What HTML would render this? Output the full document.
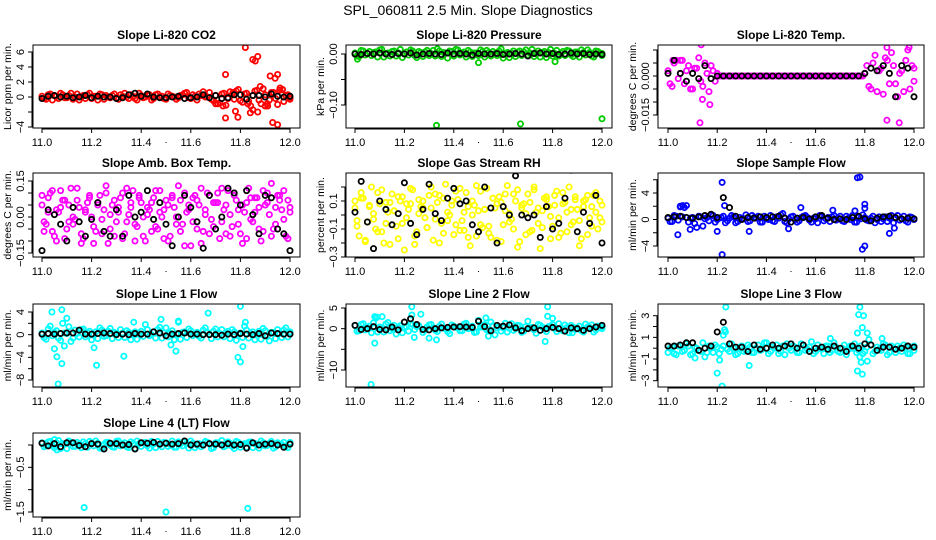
<!DOCTYPE html>
<html><head><meta charset="utf-8"><style>
body{margin:0;background:#fff}
svg{display:block}
text{font-family:"Liberation Sans",sans-serif;fill:#000}
</style></head><body>
<svg id="fig" width="936" height="540" viewBox="0 0 936 540">
<text x="468" y="15" text-anchor="middle" font-size="14">SPL_060811  2.5 Min. Slope Diagnostics</text>
</svg>
<script>
// ---- data ----
const xTicks=[11.0,11.2,11.4,11.6,11.8,12.0];
const co2Col=[0.1,-0.3,0.4,0.2,-0.2,0.3,-0.1,0.5,0.0,-0.4,0.2,0.3,-0.2,0.1,0.4,-0.3,0.0,0.2,-0.1,0.3,0.5,-0.2,0.1,-0.4,0.2,0.0,0.3,-0.2,0.4,0.1,-0.3,0.2,0.0,-0.1,0.3,0.6,-0.2,0.1,0.4,0.7,0.0,-0.3,0.2,-0.8,0.5,-0.2,0.3,0.8,-0.5,0.4,-0.6,0.2,0.9,-0.9,0.3,-0.4,0.6,-1.0,0.5,0.2,-0.3];
const co2Col2=[-0.2,0.3,-0.4,0.1,0.5,-0.1,0.2,-0.3,0.4,0.0,-0.2,0.5,0.1,-0.4,0.3,0.2,-0.1,0.4,-0.3,0.1,0.0,0.3,-0.2,0.5,-0.1,0.2,-0.4,0.3,0.0,-0.2,0.4,0.1,-0.3,0.2,0.5,-0.1,0.3,-0.4,0.2,0.0,0.6,-0.5,-0.9,0.4,-1.1,0.7,-0.3,1.0,-0.7,0.5,-1.2,0.8,-0.4,1.1,-0.9,0.6,-0.2,0.9,-0.6,0.3,-0.1];
const co2Blk=[-0.2,0.1,0.2,0.0,0.1,-0.1,0.0,0.2,-0.1,0.1,0.0,0.0,-0.2,-0.1,0.3,0.5,0.1,0.4,0.0,-0.1,-0.1,0.0,0.1,-0.2,-0.1,0.0,0.3,-0.1,0.2,-0.2,-0.1,0.3,0.3,-0.3,0.2,0.2,0.0,0.4,0.1,0.0,0.1];
const co2OutX=[11.74,11.74,11.78,11.79,11.82,11.84,11.85,11.86,11.87,11.87,11.88,11.9,11.91,11.92,11.93,11.94,11.95,11.95,11.96,11.97,11.85,11.83,11.73,11.7,11.77];
const co2OutY=[3,-2.8,-1.9,-2.7,6.6,-2.1,5,4.8,5.4,-2,1.4,-1.2,-1.2,2.8,-3.4,2.5,-3.7,3,1.2,1,-1.7,-0.9,-1.2,-0.9,0.6];
const presCol=[0.002,-0.005,0.006,0.001,-0.003,0.004,0.008,-0.006,0.002,0.005,-0.004,0.009,0.001,-0.002,0.006,-0.007,0.003,0.004,-0.003,0.007,0.010,-0.005,0.002,0.006,-0.004,0.008,0.001,-0.006,0.004,0.002,-0.003,0.005,0.007,-0.004,0.001,0.006,-0.008,0.003,0.002,-0.005,0.006,0.004,-0.002,0.009,0.001,-0.006,0.005,0.003,-0.004,0.007,0.002,-0.003,0.006,-0.005,0.004,0.008,-0.002,0.003,-0.006,0.005,0.001];
const presCol2=[-0.004,0.007,-0.002,0.005,0.003,-0.006,0.009,0.001,-0.004,0.006,0.002,-0.007,0.004,0.008,-0.003,0.005,-0.005,0.007,0.001,-0.004,0.006,0.003,-0.008,0.005,0.009,-0.002,0.004,0.007,-0.005,0.002,0.008,-0.006,0.003,0.005,-0.003,0.010,0.001,-0.007,0.006,0.004,-0.003,0.008,0.002,-0.005,0.006,0.003,-0.007,0.009,0.001,-0.004,0.005,0.007,-0.002,0.004,-0.006,0.003,0.008,-0.004,0.006,0.002,-0.003];
const presBlk=[0,-0.001,0.001,0,0.002,0,-0.001,0.001,0,0.002,-0.002,0,0.001,0,-0.001,0.002,0,0.001,0,-0.002,0.001,0,0,0.001,-0.001,0,0.001,0,-0.004,0.001,0.002,0,0.001,-0.001,0,0.002,0,0.001,-0.001,0,-0.001];
const presOutX=[11.33,11.5,11.67,12.0,11.81,11.01];
const presOutY=[-0.14,-0.017,-0.137,-0.127,-0.015,-0.01];
const tempCol=[0.002,-0.004,0.006,0.001,-0.003,0.004,-0.005,0.003,-0.002,0.005,-0.006,0.002,0.001,0,0,0,0,0,0,0,0,0,0,0,0,0,0,0,0,0,0,0,0,0,0,0,0,0,0,0,0,0,0,0,0,0,0,0,0.001,-0.004,0.005,-0.006,0.003,0.007,-0.003,0.004,-0.008,0.002,0.006,-0.005,0.003];
const tempCol2=[-0.003,0.005,-0.001,0.006,0.002,-0.005,0.003,0.007,-0.004,0.001,0.004,-0.002,0,0,0,0,0,0,0,0,0,0,0,0,0,0,0,0,0,0,0,0,0,0,0,0,0,0,0,0,0,0,0,0,0,0,0,0,0.004,-0.005,0.008,0.002,-0.007,0.006,0.009,-0.003,0.001,-0.006,0.010,0.004,-0.002];
const tempBlk=[0.001,0.006,0.001,-0.002,0.001,-0.001,0.004,-0.001,0,0,0,0,0,0,0,0,0,0,0,0,0,0,0,0,0,0,0,0,0,0,0,0,0.001,0.003,0.002,0.004,0.001,-0.008,0.004,0.003,-0.008];
const tempOutX=[11.13,11.14,11.135,11.17,11.89,11.89,11.94,11.99,11.99,11.98,11.02,11.05];
const tempOutY=[-0.018,-0.009,0.012,-0.011,-0.017,0.011,-0.018,-0.024,0.013,0.011,0.006,0.006];
const ambCol=[0.05,-0.03,0.10,-0.08,0.02,0.07,-0.05,0.12,-0.01,0.04,-0.09,0.06,0.00,-0.06,0.09,0.03,-0.11,0.05,-0.02,0.08,-0.07,0.01,0.11,-0.04,0.06,-0.10,0.03,0.08,-0.05,0.00,0.07,-0.08,0.04,0.13,-0.03,0.02,-0.12,0.09,0.05,-0.06,0.10,-0.01,0.06,-0.09,0.03,0.11,-0.04,0.07,-0.07,0.02,0.12,-0.02,0.08,-0.10,0.05,0.01,-0.05,0.09,0.03,-0.08,0.04];
const ambCol2=[-0.02,0.08,-0.06,0.03,0.11,-0.09,0.05,-0.03,0.07,-0.11,0.02,0.09,-0.04,0.06,-0.07,0.13,0.01,-0.08,0.04,0.10,-0.02,0.06,-0.10,0.08,0.00,0.04,-0.06,0.11,0.02,-0.09,0.05,0.09,-0.03,0.07,-0.12,0.03,0.08,-0.05,0.12,0.01,-0.07,0.06,0.10,-0.02,0.05,-0.08,0.09,0.03,-0.11,0.06,-0.01,0.08,0.04,-0.06,0.10,0.14,-0.03,0.07,0.11,-0.09,0.02];
const ambCol3=[0.09,-0.06,0.02,0.11,-0.10,0.04,0.07,-0.02,0.00,0.12,-0.07,0.03,0.08,-0.11,0.05,-0.01,0.10,-0.05,0.07,0.02,-0.09,0.12,0.04,-0.03,0.09,-0.08,0.01,0.06,-0.04,0.11,0.03,-0.10,0.08,0.00,-0.06,0.10,0.05,-0.02,0.07,-0.11,0.03,0.09,-0.04,0.06,0.12,-0.07,0.01,0.10,-0.03,0.05,-0.09,0.08,0.02,-0.05,0.11,0.06,-0.08,0.04,0.09,-0.01,0.07];
const ambBlk=[-0.14,0.03,0.01,-0.03,-0.10,0.04,-0.02,-0.08,-0.01,0.06,-0.06,-0.08,0.03,-0.08,0.09,0.00,0.02,0.11,-0.01,0.06,-0.03,-0.12,0.00,0.09,0.04,-0.02,-0.13,0.09,-0.05,0.00,0.12,0.10,0.05,0.11,0.01,-0.07,0.09,0.08,-0.05,-0.07,-0.14];
const rhCol=[0.05,-0.15,0.12,-0.05,0.20,-0.10,0.08,-0.20,0.02,0.15,-0.08,0.10,-0.25,0.04,0.18,-0.12,0.06,-0.02,0.14,-0.18,0.09,-0.06,0.22,0.00,-0.14,0.11,-0.04,0.16,-0.22,0.07,0.03,-0.09,0.19,-0.16,0.05,0.13,-0.07,0.21,-0.03,0.10,-0.19,0.08,0.15,-0.11,0.02,-0.24,0.12,0.06,-0.08,0.17,-0.13,0.09,0.20,-0.05,0.04,-0.17,0.11,-0.02,0.14,-0.10,0.07];
const rhCol2=[-0.08,0.12,-0.18,0.06,-0.03,0.16,-0.12,0.09,-0.21,0.03,0.13,-0.06,0.08,0.19,-0.15,0.01,0.10,-0.09,0.05,0.15,-0.20,0.12,-0.04,0.07,0.17,-0.11,0.02,-0.16,0.10,0.21,-0.07,0.04,-0.13,0.12,0.08,-0.19,0.15,0.01,-0.10,0.18,0.05,-0.14,0.09,0.20,-0.06,0.03,0.13,-0.17,0.07,-0.02,0.16,-0.12,0.04,0.11,-0.22,0.06,0.14,-0.08,0.02,0.10,-0.05];
const rhCol3=[0.10,-0.04,0.16,-0.19,0.07,0.01,-0.12,0.18,-0.06,0.09,0.03,-0.17,0.13,-0.02,0.08,-0.21,0.11,0.05,-0.09,0.20,-0.03,0.14,-0.13,0.02,0.10,-0.07,0.19,-0.11,0.06,0.00,-0.15,0.17,0.04,-0.08,0.12,-0.18,0.09,0.03,-0.05,0.15,-0.23,0.07,0.01,-0.12,0.18,0.05,-0.09,0.11,-0.01,0.14,-0.16,0.08,0.02,-0.07,0.13,-0.04,0.10,-0.14,0.06,0.16,-0.02];
const rhBlk=[0.02,0.24,-0.05,-0.24,0.10,0.04,-0.07,0.01,0.23,-0.06,-0.14,0.04,0.22,0.01,-0.04,0.12,0.19,0.08,0.10,-0.07,-0.12,0.20,0.05,-0.20,0.06,0.00,0.28,0.00,-0.02,0.00,-0.16,0.06,-0.10,-0.06,0.12,0.32,-0.12,0.02,-0.06,0.14,-0.20];
const smpCol=[0.2,-0.3,0.5,2.0,1.8,-0.4,0.3,-1.2,0.4,0.1,-0.2,0.6,0.0,0.3,-0.5,0.2,0.4,-0.3,0.1,0.7,-0.2,0.3,0.5,-0.4,0.1,0.6,-0.3,0.2,0.9,-0.5,0.4,0.0,-0.2,0.5,0.3,-0.4,0.1,0.6,-0.2,0.3,0.4,-0.1,0.5,-0.3,0.2,0.6,-0.4,0.1,0.3,-0.2,0.5,0.0,-0.3,0.4,0.2,-0.5,0.6,0.1,-0.2,0.4,0.0];
const smpCol2=[-0.3,0.6,-0.1,0.4,2.1,0.2,-0.6,0.5,-1.0,0.3,0.7,-0.4,0.2,0.5,-0.2,0.6,-0.5,0.3,0.1,-0.3,0.6,0.2,-0.4,0.5,0.0,-0.2,0.4,0.7,-0.3,0.1,0.5,-0.4,0.3,0.6,-0.1,0.2,-0.5,0.4,0.1,-0.3,0.6,0.2,-0.2,0.5,0.0,-0.4,0.3,0.7,-0.1,0.2,-0.5,0.4,0.1,-0.3,0.6,0.2,-0.1,0.5,-0.4,0.3,0.1];
const smpBlk=[0.3,0.4,0.5,0.3,0.2,0.4,0.6,0.8,0.3,3.3,1.8,0.5,0.0,0.3,0.2,0.4,0.3,0.4,0.5,0.2,-0.4,0.2,0.3,0.1,0.4,0.6,0.2,0.0,0.1,0.0,0.3,0.5,0.1,-0.2,0.2,0.4,0.5,0.3,0.1,0.2,0.1];
const smpOutX=[11.04,11.09,11.2,11.22,11.22,11.23,11.33,11.49,11.54,11.77,11.78,11.79,11.8,11.8,11.8,11.9,11.92,11.76,11.67,11.06,11.05];
const smpOutY=[-2.3,-1.5,-1.8,5.6,-5.3,2.1,-1.8,-1.4,1.8,6.3,6.4,-4.5,-4.0,2.3,1.7,-2.1,-1.3,1.3,1.4,2.1,1.9];
const l1Col=[0.3,-0.8,1.5,0.4,-0.6,2.0,0.2,-1.2,0.8,-0.4,1.0,0.3,-0.9,0.5,1.2,-0.3,0.6,-0.7,0.2,0.9,-0.5,0.4,0.1,-0.8,0.6,1.8,-0.2,0.5,0.9,-0.6,1.2,0.3,-0.9,2.2,0.4,-0.5,0.7,0.1,-0.3,0.8,0.4,-0.7,1.0,0.2,-0.4,0.6,0.9,-1.0,0.3,1.5,-0.6,0.5,0.2,-0.8,0.7,-1.1,0.4,0.9,-0.5,1.2,0.3];
const l1Col2=[-0.5,1.0,-0.2,0.7,-1.0,0.3,1.4,-0.6,0.2,0.9,-0.4,0.6,0.1,-0.7,0.8,-0.2,1.1,0.4,-0.5,0.3,0.7,-0.9,0.5,0.2,-0.3,0.9,0.0,-0.6,1.3,0.3,-0.4,0.7,0.1,-0.8,0.5,1.0,-0.2,0.4,-0.6,1.2,0.0,0.6,-0.4,0.9,0.3,-0.7,0.5,0.1,-0.5,0.8,0.2,-0.9,0.6,1.1,-0.3,0.4,-0.7,0.2,0.8,-0.4,0.5];
const l1Blk=[0.1,0.2,0.1,0.2,0.3,0.3,0.8,0.1,0.1,0.2,0.3,0.2,0.0,0.1,0.0,0.2,0.1,0.1,0.5,0.3,-0.2,0.1,0.2,0.3,0.1,0.1,0.0,0.0,0.0,-0.1,0.1,0.0,0.2,0.1,0.0,0.2,-0.2,0.3,0.2,0.1,0.1];
const l1OutX=[11.04,11.08,11.05,11.06,11.065,11.08,11.1,11.21,11.22,11.33,11.37,11.48,11.52,11.54,11.55,11.67,11.79,11.80,11.8,11.81,11.82,11.09];
const l1OutY=[4.0,4.4,-2.5,-3.9,-8.7,-5.1,2.9,-2.3,-5.4,-3.8,2.2,2.7,-1.8,-2.9,2.4,3.8,-4.0,-4.8,5.0,-2.1,2.2,-2.0];
const l2Col=[0.8,-0.5,1.2,0.2,-1.0,2.5,0.4,-0.8,1.5,0.0,-1.3,0.7,0.3,-0.6,1.0,0.5,3.5,-0.4,0.9,0.2,-0.7,1.1,0.0,-1.2,0.6,0.3,-0.5,1.3,0.1,-0.9,2.0,0.4,-0.3,1.6,-1.5,0.5,0.2,-0.8,1.2,0.0,0.7,-0.6,1.8,0.3,-1.1,0.8,-0.2,0.5,1.0,-0.7,0.2,0.9,-1.0,0.4,0.1,-0.5,1.1,0.3,-0.8,0.6,0.0];
const l2Col2=[-0.6,1.0,-0.3,0.6,1.4,-0.8,0.2,1.1,-0.5,0.8,0.3,-1.0,0.5,1.2,-0.2,0.7,-0.9,0.4,1.0,-0.4,0.6,0.1,-0.7,0.9,0.3,-0.5,1.1,0.0,0.6,-0.8,0.4,1.0,-0.3,0.7,0.2,-0.6,1.3,0.1,-0.4,0.8,-0.9,0.5,0.2,-0.3,1.0,0.4,-0.7,0.6,0.0,1.2,-0.5,0.3,0.8,-0.2,0.6,-0.8,0.4,0.9,-0.3,0.2,0.5];
const l2Blk=[0.8,-0.2,0.0,0.5,-0.2,-0.3,0.4,-0.3,1.6,2.4,1.0,-0.2,-0.3,0.0,0.2,0.3,0.4,0.5,0.4,0.3,1.8,0.5,-0.5,0.8,0.6,0.9,0.2,-0.5,0.0,0.2,-0.4,0.0,0.3,0.0,-0.6,0.2,0.0,-0.4,0.0,0.4,0.8];
const l2OutX=[11.065,11.08,11.09,11.11,11.08,11.23,11.23,11.24,11.3,11.33,11.53,11.54,11.77,11.78,11.78,11.8,11.88];
const l2OutY=[-13.5,-3.5,2.8,2.9,2.9,5.3,3.3,-2.1,-2.3,-2.7,2.6,-1.8,-3.1,5.3,3.0,2.5,-1.0];
const l3Col=[-0.4,0.1,-0.6,0.3,-0.2,0.2,-0.5,0.0,-0.3,-0.8,0.2,-0.4,0.1,-0.1,1.5,-0.3,0.0,-0.5,0.2,-0.2,0.1,-0.4,0.3,-0.1,0.5,-0.3,0.0,-0.5,0.2,0.4,-0.2,0.1,-0.4,0.3,-0.1,0.6,-0.3,0.0,-0.5,0.2,-0.2,0.1,-0.4,0.3,-0.1,0.0,-0.4,0.2,-0.3,0.8,-0.5,0.1,-0.2,0.3,-0.4,0.0,0.2,-0.3,0.1,-0.5,0.2];
const l3Col2=[0.0,-0.5,0.2,-0.3,0.4,-0.6,0.1,-0.2,0.5,-0.4,0.0,0.3,-0.5,0.2,-0.1,0.4,-0.6,0.1,-0.3,0.3,-0.4,0.0,-0.2,0.5,-0.5,0.1,0.3,-0.3,-0.6,0.0,0.2,-0.4,0.4,-0.2,0.1,-0.5,0.3,-0.1,0.2,-0.4,0.5,-0.3,0.0,-0.6,0.2,0.4,-0.2,-0.5,0.1,0.3,-0.3,-0.1,0.4,-0.6,0.2,-0.4,0.0,0.3,-0.5,0.1,-0.2];
const l3Blk=[0.2,0.2,0.3,0.5,0.5,-0.2,0.0,0.2,1.5,2.4,0.4,0.1,0.1,-0.3,0.3,-0.1,0.0,0.3,0.0,0.2,0.4,0.0,0.3,-0.3,0.0,0.1,-0.1,0.2,0.0,-0.3,0.2,0.0,0.4,0.3,-0.2,0.1,0.1,-0.1,0.0,0.2,0.1];
const l3OutX=[11.2,11.21,11.22,11.225,11.23,11.235,11.33,11.78,11.775,11.795,11.79,11.77,11.81,11.78,11.785,11.77,11.79,11.81,11.11,11.66,11.87];
const l3OutY=[-2.3,-1.1,-3.5,1.2,1.7,3.8,-1.6,3.8,3.1,3.0,1.9,1.4,1.4,-0.8,-1.3,-2.1,-2.4,-1.2,-0.9,0.9,0.9];
const l4Col=[0.05,-0.02,0.08,-0.06,0.10,0.03,-0.08,0.06,-0.03,0.02,0.07,-0.05,0.04,0.09,-0.07,0.01,0.06,-0.04,0.08,-0.02,0.05,-0.06,0.03,0.09,-0.03,0.06,-0.07,0.02,0.08,-0.04,0.05,0.01,-0.05,0.07,-0.02,0.04,0.09,-0.06,0.03,-0.01,0.06,-0.08,0.05,0.02,-0.04,0.07,-0.03,0.08,-0.05,0.03,0.06,-0.06,0.02,0.09,-0.02,0.04,-0.07,0.05,0.01,-0.03,0.06];
const l4Col2=[-0.04,0.07,-0.01,0.05,-0.08,0.02,0.09,-0.03,0.06,-0.06,0.03,0.08,-0.02,0.04,-0.07,0.06,0.00,-0.05,0.09,0.02,-0.04,0.07,-0.08,0.03,0.05,-0.02,0.08,-0.06,0.01,0.06,-0.03,0.09,-0.05,0.02,0.07,-0.07,0.04,0.00,-0.04,0.08,0.03,-0.06,0.05,0.10,-0.02,0.04,-0.08,0.06,0.01,-0.05,0.07,0.03,-0.07,0.05,-0.01,0.08,-0.04,0.02,0.06,-0.06,0.04];
const l4Blk=[0.04,-0.02,0.03,-0.04,0.05,0.05,-0.01,-0.04,0.03,0.02,-0.09,0.04,0.03,0.00,0.01,-0.09,0.05,0.04,0.06,0.02,0.04,0.02,0.03,0.09,0.00,0.02,0.00,0.03,0.02,0.00,0.03,0.00,0.01,-0.07,0.05,0.00,0.02,0.03,0.00,-0.05,0.02];
const l4OutX=[11.17,11.5,11.83,11.05,11.06];
const l4OutY=[-1.4,-1.5,-1.42,0.12,-0.11];

// ---- layout ----
const cols=[{l:33,r:300,x0:42,x1:290},{l:346,r:612,x0:355,x1:602},{l:658,r:924,x0:668,x1:914}];
const rows=[{t:45,b:128},{t:173,b:257},{t:304,b:387},{t:433,b:517}];
const panels=[
 {name:'co2',title:'Slope Li-820 CO2',yl:'Licor ppm per min.',c:0,r:0,color:'#ff0000',cal:[0,97,6,52],ticks:[-4,-2,0,2,4,6],labels:['-4','','0','2','4','6'],col:co2Col,col2:co2Col2,blk:co2Blk,ox:co2OutX,oy:co2OutY},
 {name:'pressure',title:'Slope Li-820 Pressure',yl:'kPa per min.',c:1,r:0,color:'#00cc00',cal:[0,54,-0.1,105],ticks:[0,-0.05,-0.1],labels:['0.00','','-0.10'],col:presCol,col2:presCol2,blk:presBlk,ox:presOutX,oy:presOutY},
 {name:'li820-temp',title:'Slope Li-820 Temp.',yl:'degrees C per min.',c:2,r:0,color:'#ff00ff',cal:[0,76,-0.015,115],ticks:[0.01,0.005,0,-0.005,-0.01,-0.015],labels:['','','0.000','','','-0.015'],col:tempCol,col2:tempCol2,blk:tempBlk,ox:tempOutX,oy:tempOutY},
 {name:'amb-box-temp',title:'Slope Amb. Box Temp.',yl:'degrees C per min.',c:0,r:1,color:'#ff00ff',cal:[0.15,181,-0.15,253],ticks:[0.15,0.1,0.05,0,-0.05,-0.1,-0.15],labels:['0.15','','','0.00','','','-0.15'],col:ambCol,col2:ambCol2,col3:ambCol3,blk:ambBlk,ox:[],oy:[]},
 {name:'gas-stream-rh',title:'Slope Gas Stream RH',yl:'percent per min.',c:1,r:1,color:'#ffff00',cal:[0.1,201,-0.3,257],ticks:[0.2,0.1,0,-0.1,-0.2,-0.3],labels:['','0.1','','-0.1','','-0.3'],col:rhCol,col2:rhCol2,col3:rhCol3,blk:rhBlk,ox:[],oy:[]},
 {name:'sample-flow',title:'Slope Sample Flow',yl:'ml/min per min.',c:2,r:1,color:'#0000ff',cal:[4,193,-4,246],ticks:[6,4,2,0,-2,-4],labels:['','4','','0','','-4'],col:smpCol,col2:smpCol2,blk:smpBlk,ox:smpOutX,oy:smpOutY},
 {name:'line1-flow',title:'Slope Line 1 Flow',yl:'ml/min per min.',c:0,r:2,color:'#00ffff',cal:[4,312,-8,380],ticks:[4,2,0,-2,-4,-6,-8],labels:['4','','0','','-4','','-8'],col:l1Col,col2:l1Col2,blk:l1Blk,ox:l1OutX,oy:l1OutY},
 {name:'line2-flow',title:'Slope Line 2 Flow',yl:'ml/min per min.',c:1,r:2,color:'#00ffff',cal:[5,308,-10,370],ticks:[5,0,-5,-10],labels:['5','0','','-10'],col:l2Col,col2:l2Col2,blk:l2Blk,ox:l2OutX,oy:l2OutY},
 {name:'line3-flow',title:'Slope Line 3 Flow',yl:'ml/min per min.',c:2,r:2,color:'#00ffff',cal:[3,315.7,-3,380.7],ticks:[3,2,1,0,-1,-2,-3],labels:['3','','1','','-1','','-3'],col:l3Col,col2:l3Col2,blk:l3Blk,ox:l3OutX,oy:l3OutY},
 {name:'line4-flow',title:'Slope Line 4 (LT) Flow',yl:'ml/min per min.',c:0,r:3,color:'#00ffff',cal:[0,445,-1.5,512],ticks:[0,-0.5,-1,-1.5],labels:['','-0.5','','-1.5'],col:l4Col,col2:l4Col2,blk:l4Blk,ox:l4OutX,oy:l4OutY}
];
const NS='http://www.w3.org/2000/svg';
const svg=document.getElementById('fig');
function mk(tag,attrs,parent){const e=document.createElementNS(NS,tag);for(const k in attrs)e.setAttribute(k,attrs[k]);parent.appendChild(e);return e;}
panels.forEach(p=>{
 const C=cols[p.c],R=rows[p.r];
 const g=mk('g',{},svg);
 
 
 const xs=v=>C.x0+(v-11)*(C.x1-C.x0);
 const ys=v=>p.cal[1]+(v-p.cal[0])*(p.cal[3]-p.cal[1])/(p.cal[2]-p.cal[0]);
 const cid='clip-'+p.name;
 const cp=mk('clipPath',{id:cid},g);mk('rect',{x:C.l,y:R.t,width:C.r-C.l,height:R.b-R.t},cp);
 const t=mk('text',{x:(C.l+C.r)/2,y:R.t-6,'text-anchor':'middle','font-size':'12','font-weight':'bold'},g);
 t.textContent=p.title;
 
 
 const pts=mk('g',{'clip-path':'url(#'+cid+')',fill:'none','stroke-width':'1.8'},g);
 function series(arr,color,off,r,label){
  const sg=mk('g',{stroke:color},pts);
  
  
  arr.forEach((v,i)=>{const x=11+i/(arr.length-1)+off;mk('circle',{cx:xs(Math.max(11,Math.min(x,12))),cy:ys(v),r:r},sg);});
 }
 series(p.col,p.color,0,2.6,p.name+'-colored-points');
 if(p.col2)series(p.col2,p.color,1/120,2.6,p.name+'-colored-points-2');
 if(p.col3)series(p.col3,p.color,-1/120,2.6,p.name+'-colored-points-3');
 const og=mk('g',{stroke:p.color},pts);
 
 
 p.ox.forEach((x,i)=>mk('circle',{cx:xs(x),cy:ys(p.oy[i]),r:2.6},og));
 series(p.blk,'#000',0,2.6,p.name+'-black-points');
 mk('rect',{x:C.l,y:R.t,width:C.r-C.l,height:R.b-R.t,fill:'none',stroke:'#000','stroke-width':'1'},g);
 const xa=mk('g',{stroke:'#000'},g);
 
 
 mk('line',{x1:xs(11),x2:xs(12),y1:R.b+1,y2:R.b+1},xa);
 xTicks.forEach(v=>{mk('line',{x1:xs(v),x2:xs(v),y1:R.b,y2:R.b+5},xa);
  const tl=mk('text',{x:xs(v),y:R.b+18,'text-anchor':'middle','font-size':'11',stroke:'none'},xa);tl.textContent=v.toFixed(1);});
 mk('rect',{x:xs(11.5)-0.5,y:R.b+14,width:1,height:1,fill:'#000',stroke:'none'},xa);
 const ya=mk('g',{stroke:'#000'},g);
 
 
 const yv=p.ticks.map(ys);
 mk('line',{x1:C.l-1,x2:C.l-1,y1:Math.min(...yv),y2:Math.max(...yv)},ya);
 p.ticks.forEach((v,i)=>{const y=ys(v);mk('line',{x1:C.l-5,x2:C.l,y1:y,y2:y},ya);
  if(p.labels[i]){const tl=mk('text',{x:C.l-9,y:y,'text-anchor':'middle','font-size':'11',stroke:'none',transform:'rotate(-90 '+(C.l-9)+' '+y+')'},ya);tl.textContent=p.labels[i].replace('-','\u2212');}});
 const cy=(R.t+R.b)/2;
 const yl=mk('text',{x:C.l-22,y:cy,'text-anchor':'middle','font-size':'10.5',transform:'rotate(-90 '+(C.l-22)+' '+cy+')'},g);
 yl.textContent=p.yl;
 
 
});
</script>
</body></html>
